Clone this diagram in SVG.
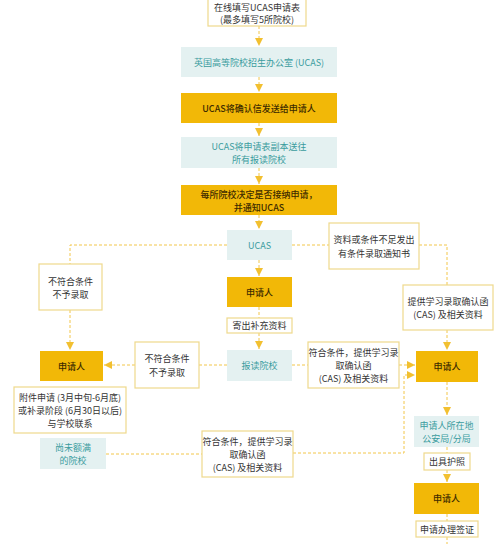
<svg xmlns="http://www.w3.org/2000/svg" width="500" height="544" viewBox="0 0 500 544">
<defs>
<style>
text{font-family:"Noto Sans CJK SC","Noto Sans",sans-serif;font-size:9px;text-anchor:middle;dominant-baseline:central}
.g rect{fill:#F2B807}
.g text{fill:#3d2b00;font-weight:500}
.b rect{fill:#E4F1F1}
.b text{fill:#3A9C9E}
.w rect{fill:#fff;stroke:#EFD98C;stroke-width:1.2}
.w text{fill:#333}
.c path{fill:none;stroke:#F2C64A;stroke-width:1;stroke-dasharray:3 2}
</style>
<marker id="ar" viewBox="0 0 8 8" refX="8" refY="4" markerWidth="8" markerHeight="8" markerUnits="userSpaceOnUse" orient="auto">
<path d="M0,0 L8,4 L0,8 Z" fill="#F2C030"/>
</marker>
</defs>
<rect width="500" height="544" fill="#fff"/>
<g class="c" id="connectors">
<path d="M259,26 V46" marker-end="url(#ar)"/>
<path d="M259,77 V92" marker-end="url(#ar)"/>
<path d="M259,123 V136" marker-end="url(#ar)"/>
<path d="M259,168 V184" marker-end="url(#ar)"/>
<path d="M259,215 V229" marker-end="url(#ar)"/>
<path d="M227,245 H70 V264"/>
<path d="M70,310 V350" marker-end="url(#ar)"/>
<path d="M292,245 H329"/>
<path d="M419,245 H447 V285"/>
<path d="M447,330 V350" marker-end="url(#ar)"/>
<path d="M259,260 V276" marker-end="url(#ar)"/>
<path d="M259,307 V318"/>
<path d="M259,333 V349" marker-end="url(#ar)"/>
<path d="M227,365 H199"/>
<path d="M135,365 H104" marker-end="url(#ar)"/>
<path d="M292,365 H308"/>
<path d="M399,365 H415" marker-end="url(#ar)"/>
<path d="M106,454 H202"/>
<path d="M293,453 H404 V375 H415" marker-end="url(#ar)"/>
<path d="M447,382 V415" marker-end="url(#ar)"/>
<path d="M447,447 V453"/>
<path d="M447,470 V482" marker-end="url(#ar)"/>
<path d="M447,514 V521"/>
<path d="M447,537 V544"/>
</g>
<g class="w" id="n1"><rect x="208" y="-2" width="98" height="28"/><text x="257" y="7">在线填写UCAS申请表</text><text x="257" y="19">(最多填写5所院校)</text></g>
<g class="b" id="n2"><rect x="181" y="47" width="156" height="30"/><text x="259" y="62">英国高等院校招生办公室 (UCAS)</text></g>
<g class="g" id="n3"><rect x="181" y="93" width="156" height="30"/><text x="259" y="108">UCAS将确认信发送给申请人</text></g>
<g class="b" id="n4"><rect x="181" y="137" width="156" height="31"/><text x="259" y="146">UCAS将申请表副本送往</text><text x="259" y="159">所有报读院校</text></g>
<g class="g" id="n5"><rect x="181" y="185" width="156" height="30"/><text x="259" y="194">每所院校决定是否接纳申请，</text><text x="259" y="207">并通知UCAS</text></g>
<g class="b" id="n6"><rect x="227" y="230" width="65" height="30"/><text x="259.5" y="245">UCAS</text></g>
<g class="w" id="n7"><rect x="39" y="264" width="63" height="46"/><text x="70.5" y="281">不符合条件</text><text x="70.5" y="294">不予录取</text></g>
<g class="w" id="n8"><rect x="329" y="223" width="90" height="46"/><text x="374" y="239">资料或条件不足发出</text><text x="374" y="253">有条件录取通知书</text></g>
<g class="g" id="n9"><rect x="227" y="277" width="65" height="30"/><text x="259.5" y="292">申请人</text></g>
<g class="w" id="n10"><rect x="403" y="285" width="90" height="45"/><text x="448" y="301">提供学习录取确认函</text><text x="448" y="314">(CAS) 及相关资料</text></g>
<g class="w" id="n11"><rect x="227" y="318" width="65" height="15"/><text x="259.5" y="325.5">寄出补充资料</text></g>
<g class="g" id="n12"><rect x="40" y="351" width="63" height="30"/><text x="71.5" y="366">申请人</text></g>
<g class="w" id="n13"><rect x="135" y="342" width="64" height="46"/><text x="167" y="358">不符合条件</text><text x="167" y="372">不予录取</text></g>
<g class="b" id="n14"><rect x="227" y="350" width="65" height="31"/><text x="259.5" y="365.5">报读院校</text></g>
<g class="w" id="n15"><rect x="308" y="342" width="91" height="46"/><text x="353.5" y="352">符合条件，提供学习录</text><text x="353.5" y="365">取确认函</text><text x="353.5" y="378">(CAS) 及相关资料</text></g>
<g class="g" id="n16"><rect x="416" y="351" width="62" height="31"/><text x="447" y="366.5">申请人</text></g>
<g class="w" id="n17"><rect x="14" y="387" width="112" height="46"/><text x="70" y="397">附件申请 (3月中旬-6月底)</text><text x="70" y="410">或补录阶段 (6月30日以后)</text><text x="70" y="423">与学校联系</text></g>
<g class="b" id="n18"><rect x="40" y="438" width="66" height="31"/><text x="73" y="447">尚未额满</text><text x="73" y="460">的院校</text></g>
<g class="w" id="n19"><rect x="202" y="431" width="91" height="46"/><text x="247.5" y="441">符合条件，提供学习录</text><text x="247.5" y="454">取确认函</text><text x="247.5" y="467">(CAS) 及相关资料</text></g>
<g class="b" id="n20"><rect x="414" y="416" width="65" height="31"/><text x="446.5" y="425">申请人所在地</text><text x="446.5" y="438">公安局/分局</text></g>
<g class="w" id="n21"><rect x="424" y="453" width="46" height="17"/><text x="447" y="461.5">出具护照</text></g>
<g class="g" id="n22"><rect x="414" y="483" width="65" height="31"/><text x="446.5" y="498.5">申请人</text></g>
<g class="w" id="n23"><rect x="416" y="521" width="62" height="16"/><text x="447" y="529">申请办理签证</text></g>
</svg>
